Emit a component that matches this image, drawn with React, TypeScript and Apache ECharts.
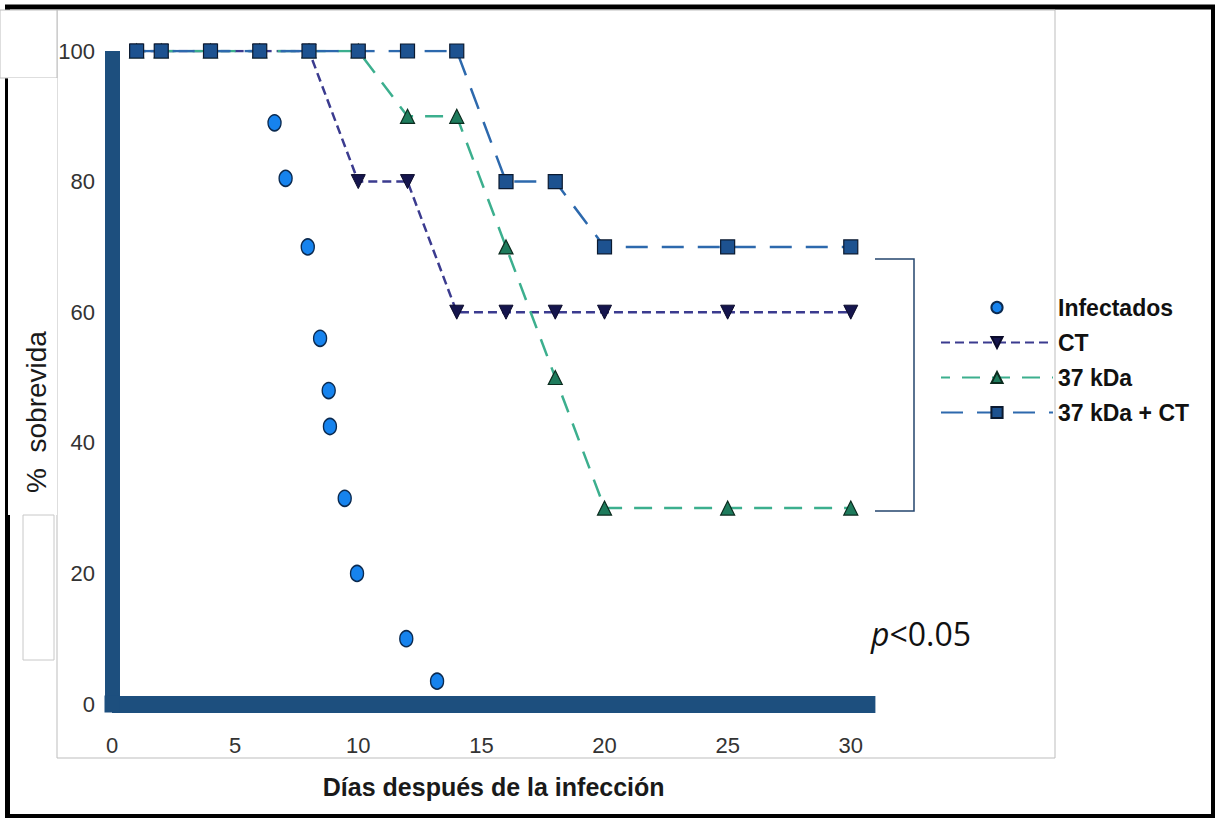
import React, { useEffect, useRef } from "react";
import * as echarts from "echarts";

// ---- Data ----
const dayTicks = [0, 5, 10, 15, 20, 25, 30];
const survivalTicks = [0, 20, 40, 60, 80, 100];

const infectadosDays = [6.6, 7.05, 7.95, 8.45, 8.8, 8.85, 9.45, 9.95, 11.95, 13.2];
const infectadosSurv = [89, 80.5, 70, 56, 48, 42.5, 31.5, 20, 10, 3.5];

const groupDays = [1, 2, 4, 6, 8, 10, 12, 14, 16, 18, 20, 25, 30];
const ctSurv = [100, 100, 100, 100, 100, 80, 80, 60, 60, 60, 60, 60, 60];
const kda37Surv = [100, 100, 100, 100, 100, 100, 90, 90, 70, 50, 30, 30, 30];
const kda37CtSurv = [100, 100, 100, 100, 100, 100, 100, 100, 80, 80, 70, 70, 70];

const seriesNames = ["Infectados", "CT", "37 kDa", "37 kDa + CT"];

const pair = (xs: number[], ys: number[]) => xs.map((x, i) => [x, ys[i]]);

const AXIS_BLUE = "#1d4f7e";
const FONT = "'Liberation Sans', Arial, sans-serif";

export default function App() {
  const ref = useRef<HTMLDivElement>(null);

  useEffect(() => {
    if (!ref.current) return;
    const chart = echarts.init(ref.current, null, { renderer: "svg" });

    const option: any = {
      animation: false,
      backgroundColor: "#ffffff",
      grid: { left: 112, top: 51, right: 339.6, bottom: 114, containLabel: false },
      legend: {
        orient: "vertical",
        left: 935,
        top: 291,
        itemWidth: 112,
        itemHeight: 14,
        itemGap: 12,
        data: seriesNames,
        textStyle: {
          fontFamily: FONT,
          fontWeight: "bold",
          fontSize: 23,
          color: "#111111",
          lineHeight: 22,
        },
      },
      xAxis: {
        type: "value",
        min: 0,
        max: 31,
        interval: 5,
        name: "Días después de la infección",
        nameLocation: "middle",
        nameGap: 70,
        nameTextStyle: {
          fontFamily: FONT,
          fontWeight: "bold",
          fontSize: 25,
          color: "#1a1a1a",
          verticalAlign: "top",
        },
        splitLine: { show: false },
        axisTick: { show: false },
        axisLine: { show: true, lineStyle: { color: AXIS_BLUE, width: 17, cap: "butt" } },
        axisLabel: {
          margin: 30,
          fontFamily: FONT,
          fontSize: 22,
          color: "#333333",
          formatter: (v: number) => (dayTicks.includes(v) ? String(v) : ""),
        },
      },
      yAxis: {
        type: "value",
        min: 0,
        max: 100,
        interval: 20,
        splitLine: { show: false },
        axisTick: { show: false },
        axisLine: { show: true, lineStyle: { color: AXIS_BLUE, width: 15, cap: "butt" } },
        axisLabel: {
          margin: 17,
          fontFamily: FONT,
          fontSize: 22,
          color: "#333333",
          formatter: (v: number) => (survivalTicks.includes(v) ? String(v) : ""),
        },
      },
      series: [
        {
          name: seriesNames[0],
          type: "line",
          data: pair(infectadosDays, infectadosSurv),
          symbol: "circle",
          symbolSize: [13, 16],
          lineStyle: { opacity: 0, width: 0 },
          itemStyle: { color: "#1683ee", borderColor: "#0b2a50", borderWidth: 1.5 },
          z: 3,
        },
        {
          name: seriesNames[1],
          type: "line",
          data: pair(groupDays, ctSurv),
          symbol: "path://M0,0 L10,0 L5,10 Z",
          symbolSize: 14,
          lineStyle: { color: "#3b3b8f", width: 2.5, type: [9, 5] },
          itemStyle: { color: "#15154d", borderColor: "#0a0a2a", borderWidth: 1 },
          z: 4,
        },
        {
          name: seriesNames[2],
          type: "line",
          data: pair(groupDays, kda37Surv),
          symbol: "triangle",
          symbolSize: 14,
          lineStyle: { color: "#3caf8e", width: 2.5, type: [18, 12], dashOffset: 9 },
          itemStyle: { color: "#1e7b5c", borderColor: "#0b2b1e", borderWidth: 1.2 },
          z: 5,
        },
        {
          name: seriesNames[3],
          type: "line",
          data: pair(groupDays, kda37CtSurv),
          symbol: "rect",
          symbolSize: 14,
          lineStyle: { color: "#2d69ad", width: 2.5, type: [22, 14] },
          itemStyle: { color: "#1d5290", borderColor: "#0b1a30", borderWidth: 1.2 },
          z: 6,
        },
      ],
      graphic: [
        // outer black border
        {
          type: "rect",
          z: 0,
          silent: true,
          shape: { x: 7.5, y: 7, width: 1206, height: 809.5 },
          style: { fill: "none", stroke: "#000000", lineWidth: 5 },
        },
        // inner gray frame
        {
          type: "rect",
          z: 0,
          silent: true,
          shape: { x: 57, y: 10, width: 998, height: 748 },
          style: { fill: "none", stroke: "#bdbdbd", lineWidth: 1 },
        },
        // top-left white box
        {
          type: "rect",
          z: 1,
          silent: true,
          shape: { x: 0, y: 10, width: 57, height: 68 },
          style: { fill: "#ffffff", stroke: "#bdbdbd", lineWidth: 1 },
        },
        // y-title white panel
        {
          type: "rect",
          z: 1,
          silent: true,
          shape: { x: 8, y: 78, width: 49, height: 437 },
          style: { fill: "#ffffff", stroke: "none" },
        },
        // small box bottom-left
        {
          type: "rect",
          z: 1,
          silent: true,
          shape: { x: 23, y: 515, width: 31, height: 145 },
          style: { fill: "#ffffff", stroke: "#c8c8c8", lineWidth: 1 },
        },
        // y axis title
        {
          type: "text",
          z: 2,
          x: 36,
          y: 412,
          rotation: Math.PI / 2,
          style: {
            text: "%  sobrevida",
            fontFamily: FONT,
            fontSize: 28,
            fill: "#1a1a1a",
            textAlign: "center",
            textVerticalAlign: "middle",
          },
        },
        // corner fill for thick axes
        {
          type: "rect",
          z: 1,
          silent: true,
          shape: { x: 104.5, y: 695.5, width: 15, height: 17 },
          style: { fill: AXIS_BLUE },
        },
        // significance bracket
        {
          type: "polyline",
          z: 2,
          silent: true,
          shape: { points: [[875, 259], [914, 259], [914, 511], [875, 511]] },
          style: { stroke: "#24466e", lineWidth: 1.5, fill: "none" },
        },
        // p-value
        {
          type: "text",
          z: 2,
          x: 871,
          y: 633,
          style: {
            text: "{i|p}{n|<0.05}",
            textVerticalAlign: "middle",
            rich: {
              i: { fontFamily: "'Open Sans', sans-serif", fontStyle: "italic", fontSize: 32, fill: "#111" },
              n: { fontFamily: "'Open Sans', sans-serif", fontSize: 32, fill: "#111" },
            },
          },
        },
      ],
    };

    chart.setOption(option);
    return () => chart.dispose();
  }, []);

  return (
    <div
      ref={ref}
      style={{ position: "absolute", left: 0, top: 0, width: 1215, height: 818 }}
    />
  );
}
